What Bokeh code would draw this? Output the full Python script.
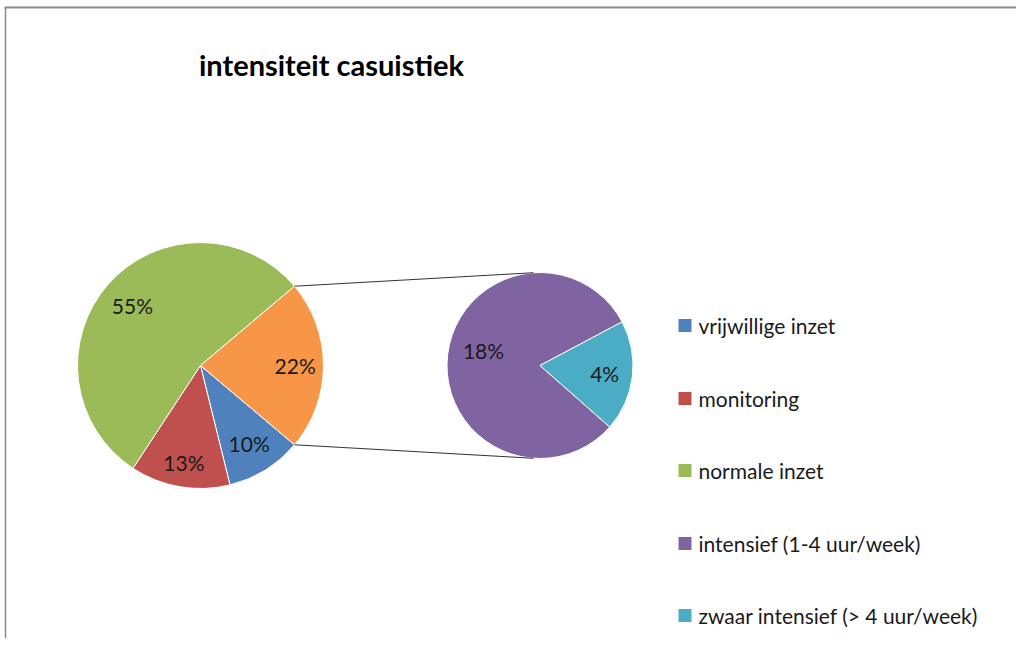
import math
from bokeh.plotting import figure
from bokeh.models import Range1d
from bokeh.core.properties import value
from bokeh.embed import file_html
from bokeh.resources import INLINE

# ---- data ----
main_labels = ["vrijwillige inzet", "monitoring", "normale inzet"]
main_values = [10.0, 13.1, 54.6]
second_labels = ["intensief (1-4 uur/week)", "zwaar intensief (> 4 uur/week)"]
second_values = [18.0, 4.3]
main_colors = ["#4F81BD", "#C0504D", "#9BBB59"]
other_color = "#F79646"
second_colors = ["#8064A2", "#4BACC6"]
title_text = "intensiteit casuistiek"

FONT = "Lato"
W, H = 1016, 638

def X(px):
    return px

def Y(py):
    return H - py

p = figure(width=W, height=H, output_backend="svg", toolbar_location=None,
           x_range=Range1d(0, W), y_range=Range1d(0, H), min_border=0)
p.axis.visible = False
p.grid.visible = False
p.outline_line_color = None
p.background_fill_color = "white"

# frame border (top + left)
p.line([X(4), X(1016)], [Y(7), Y(7)], line_color="#8A8A8A", line_width=2)
p.line([X(5), X(5)], [Y(7), Y(646)], line_color="#8A8A8A", line_width=1.5)

total = sum(main_values) + sum(second_values)
other = sum(second_values)

# main pie
cx1, cy1, r1 = X(200), Y(365), 123
other_ang = other / total * 2 * math.pi
start = -other_ang / 2
wedges = []
cur = start
for v, c in zip(main_values, main_colors):
    a = v / total * 2 * math.pi
    wedges.append((cur - a, cur, c, v))
    cur -= a
wedges.append((-other_ang / 2, other_ang / 2, other_color, other))

for s, e, c, v in wedges:
    p.wedge(x=cx1, y=cy1, radius=r1, radius_units="screen", start_angle=s, end_angle=e,
            fill_color=c, line_color="white", line_width=1)

fracs1 = [0.75, 0.80, 0.74, 0.77]
for (s, e, c, v), f in zip(wedges, fracs1):
    m = (s + e) / 2
    p.text(x=[cx1 + f * r1 * math.cos(m)], y=[cy1 + f * r1 * math.sin(m)],
           text=["%d%%" % round(v)], text_align="center", text_baseline="middle",
           text_font=value(FONT), text_font_size="21px", text_color="#1a1a1a")

# second pie
cx2, cy2, r2 = X(539.5), Y(365), 93
cyan_ang = second_values[1] / other * 2 * math.pi
cyan_end = math.radians(28)
cyan_start = cyan_end - cyan_ang
w2 = [(cyan_end, cyan_start + 2 * math.pi, second_colors[0], second_values[0]),
      (cyan_start, cyan_end, second_colors[1], second_values[1])]
for s, e, c, v in w2:
    p.wedge(x=cx2, y=cy2, radius=r2, radius_units="screen", start_angle=s, end_angle=e,
            fill_color=c, line_color="white", line_width=1)
lab2 = [(X(483), Y(350)), None]
for (s, e, c, v), pos, f in zip(w2, lab2, [0.62, 0.70]):
    m = (s + e) / 2
    if pos is None:
        pos = (cx2 + f * r2 * math.cos(m), cy2 + f * r2 * math.sin(m))
    p.text(x=[pos[0]], y=[pos[1]], text=["%d%%" % round(v)], text_align="center",
           text_baseline="middle", text_font=value(FONT), text_font_size="21px",
           text_color="#1a1a1a")

# connector lines
a_top = other_ang / 2
a2 = math.radians(94)
p.line([cx1 + r1 * math.cos(a_top), cx2 + r2 * math.cos(a2)],
       [cy1 + r1 * math.sin(a_top), cy2 + r2 * math.sin(a2)], line_color="#333333", line_width=1)
p.line([cx1 + r1 * math.cos(-a_top), cx2 + r2 * math.cos(-a2)],
       [cy1 + r1 * math.sin(-a_top), cy2 + r2 * math.sin(-a2)], line_color="#333333", line_width=1)

# title
p.text(x=[X(331)], y=[Y(64)], text=[title_text], text_align="center", text_baseline="alphabetic",
       text_font=value(FONT), text_font_style="bold", text_font_size="29px", text_color="black")

# legend
leg_labels = main_labels + second_labels
leg_colors = main_colors + second_colors
leg_y = [Y(325), Y(398), Y(470), Y(543), Y(615)]
p.scatter(x=[X(684.5)] * 5, y=leg_y, marker="square", size=13, fill_color=leg_colors,
          line_color=None)
p.text(x=[X(698)] * 5, y=leg_y, text=leg_labels, text_align="left", text_baseline="middle",
       text_font=value(FONT), text_font_size="21px", text_color="#1a1a1a")

open("out.html", "w").write(file_html(p, INLINE))
